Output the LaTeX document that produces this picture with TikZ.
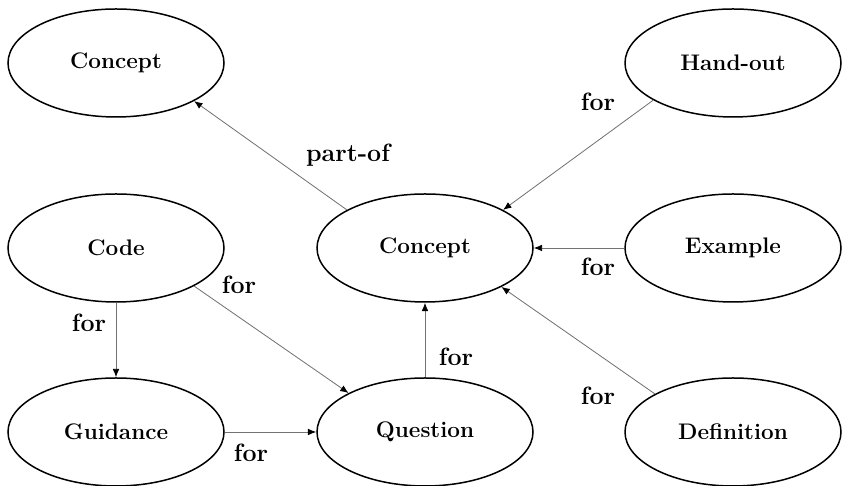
\documentclass[tikz,border=0pt]{standalone}
\usepackage{xcolor}
\usepackage{tikz}
\usetikzlibrary{arrows.meta,shapes.geometric}

\begin{document}
\begin{tikzpicture}[
    x=0.6pt, y=0.6pt,
    topic/.style={ellipse, draw, line width=0.9pt, minimum width=129.6pt, minimum height=64.8pt, inner sep=0pt, font=\fontsize{13.5}{16}\selectfont\bfseries},
    lbl/.style={font=\fontsize{15}{18}\selectfont\bfseries},
    rel/.style={draw=black!55, line width=0.5pt, -{Latex[length=5pt, width=4pt, color=black]}},
]
\useasboundingbox (0,0) rectangle (842,486);

% top row
\node[topic] (conceptTop) at (116,423) {Concept};
\node[topic] (handout) at (733,423) {Hand-out};

% middle row
\node[topic] (code) at (116,238) {Code};
\node[topic] (concept) at (425,238) {Concept};
\node[topic] (example) at (733,238) {Example};

% bottom row
\node[topic] (guidance) at (116,54) {Guidance};
\node[topic] (question) at (425,54) {Question};
\node[topic] (definition) at (733,54) {Definition};

% relations
\draw[rel] (concept.154) -- (conceptTop.334);
\draw[rel] (handout.205) -- (concept.26);
\draw[rel] (example.west) -- (concept.east);
\draw[rel] (definition.154) -- (concept.333);
\draw[rel] (question.north) -- (concept.south);
\draw[rel] (code.334) -- (question.153);
\draw[rel] (code.south) -- (guidance.north);
\draw[rel] (guidance.east) -- (question.west);

% labels
\node[lbl] (lPartOf) at (348,331) {part-of};
\node[lbl] (lHandout) at (598,384) {for};
\node[lbl] (lExample) at (598,219) {for};
\node[lbl] (lDefinition) at (598,90) {for};
\node[lbl] (lQuestion) at (456,129) {for};
\node[lbl] (lCodeQ) at (239,201) {for};
\node[lbl] (lCodeG) at (89,163) {for};
\node[lbl] (lGuidance) at (251,33) {for};
\end{tikzpicture}
\end{document}
